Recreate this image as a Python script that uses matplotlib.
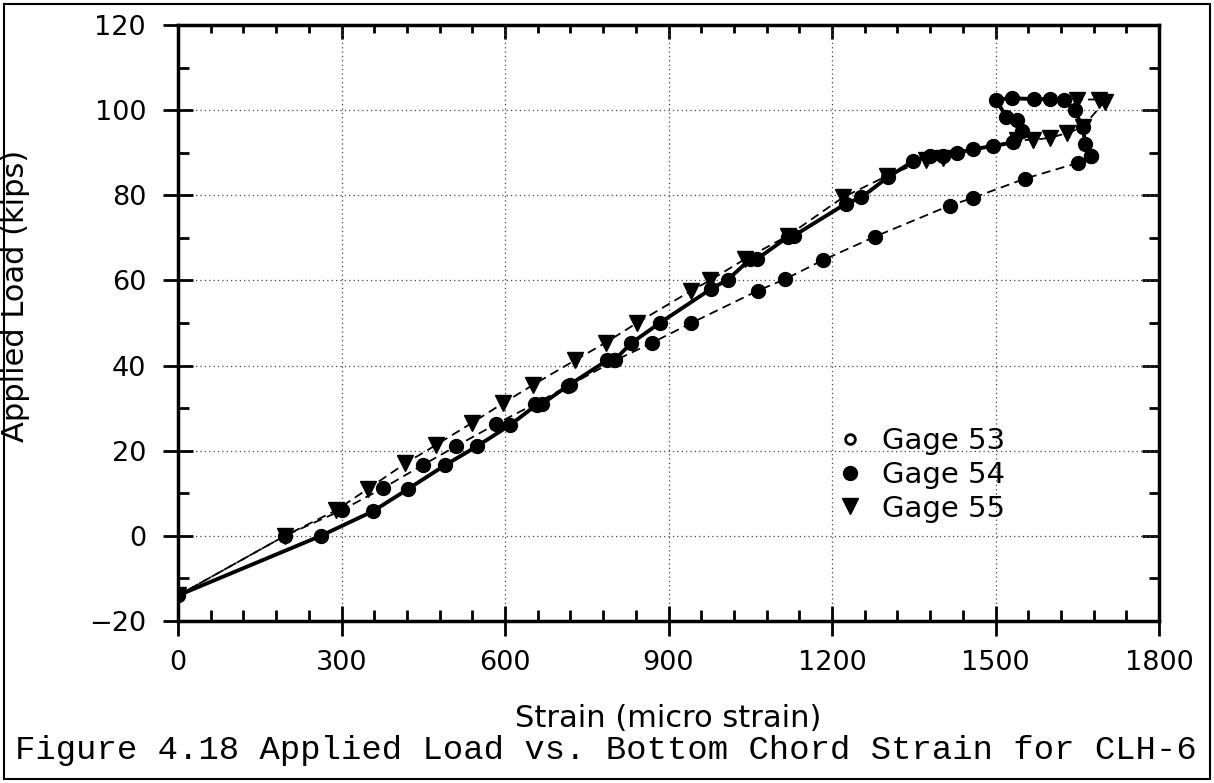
import matplotlib
matplotlib.use('Agg')
import matplotlib.pyplot as plt
from matplotlib.lines import Line2D
from matplotlib.patches import Rectangle
from matplotlib.ticker import MultipleLocator

# Gage 54 - loading branch (solid line)
strain_54_up = [0, 262, 358, 422, 490, 548, 609, 658, 668, 716, 787, 800, 832, 884,
                978, 1009, 1050, 1062, 1120, 1130, 1225, 1254, 1303, 1349, 1380, 1404,
                1430, 1459, 1496, 1533, 1548, 1540, 1520, 1500, 1530, 1570, 1600, 1625,
                1645, 1660, 1665, 1675]
load_54_up = [-14, 0, 5.8, 11, 16.6, 21, 26, 30.8, 31, 35.3, 41.2, 41.2, 45.3, 50,
              58, 60.2, 65, 65, 70.3, 70.5, 78, 79.5, 84.3, 88, 89.2, 89.2,
              90, 90.8, 91.6, 92.4, 95, 97.8, 98.5, 102.5, 102.8, 102.6, 102.6, 102.3,
              100, 96, 92, 89.2]

# Gage 54 - unloading branch (dashed line)
strain_54_down = [1675, 1651, 1554, 1459, 1416, 1279, 1184, 1114, 1064, 942, 869, 802,
                  720, 655, 584, 511, 450, 376, 300, 196, 0]
load_54_down = [89.2, 87.6, 83.9, 79.4, 77.6, 70.3, 64.8, 60.3, 57.6, 50, 45.3, 41.2,
                35.5, 31, 26.3, 21.1, 16.7, 11.2, 6, 0, -14]

# Gage 55 (dashed line)
strain_55 = [0, 196, 290, 348, 417, 474, 539, 597, 652, 729, 785, 842, 942, 976, 1040,
             1119, 1220, 1300, 1373, 1404, 1540, 1569, 1600, 1631, 1660, 1700, 1690, 1650]
load_55 = [-14, 0, 6, 11, 17, 21.4, 26.5, 31.2, 35.5, 41.3, 45.4, 50, 57.6, 60, 65,
           70.5, 79.5, 84.5, 88.3, 88.8, 93, 93, 93.5, 94.6, 96, 102, 102.5, 102.5]

xticks = [0, 300, 600, 900, 1200, 1500, 1800]
yticks = [-20, 0, 20, 40, 60, 80, 100, 120]

fig = plt.figure(figsize=(12.14, 7.83), dpi=100)
ax = fig.add_axes([178/1214, 1-621/783, 981/1214, 596/783])

ax.plot(strain_55, load_55, c='black', ls=(0, (5, 3)), lw=1.3,
        marker='v', ms=11, zorder=3)
ax.plot(strain_54_down, load_54_down, c='black', ls=(0, (5, 3)), lw=1.3,
        marker='o', ms=10, zorder=3)
ax.plot(strain_54_up, load_54_up, c='black', ls='-', lw=2.8,
        marker='o', ms=10, zorder=4)

ax.set_xlim(0, 1800)
ax.set_ylim(-20, 120)
ax.set_xticks(xticks)
ax.set_yticks(yticks)
ax.xaxis.set_minor_locator(MultipleLocator(60))
ax.yaxis.set_minor_locator(MultipleLocator(10))
ax.set_yticklabels(['\u221220' if t < 0 else str(t) for t in yticks])
ax.tick_params(which='major', direction='inout', length=22, width=2,
               labelsize=19.5)
ax.tick_params(axis='x', which='major', pad=10)
ax.tick_params(axis='y', which='major', pad=12)
ax.tick_params(which='minor', direction='in', length=8, width=2)
for s in ax.spines.values():
    s.set_linewidth(2.5)

ax.grid(True, which='major', color='#444444', ls=(0, (1, 2.5)), lw=0.9)

# inward ticks on top and right
top = ax.secondary_xaxis('top')
top.set_xticks(xticks)
top.xaxis.set_minor_locator(MultipleLocator(60))
top.tick_params(which='major', direction='in', length=10, width=2, labeltop=False)
top.tick_params(which='minor', direction='in', length=6, width=2)
right = ax.secondary_yaxis('right')
right.set_yticks(yticks)
right.yaxis.set_minor_locator(MultipleLocator(10))
right.tick_params(which='major', direction='in', length=12, width=2, labelright=False)
right.tick_params(which='minor', direction='in', length=7, width=2)

ax.set_xlabel('Strain (micro strain)', fontsize=22)
ax.set_ylabel('Applied Load (kips)', fontsize=22)
ax.xaxis.set_label_coords(0.5, -0.14)
ax.yaxis.set_label_coords(-0.151, 0.545)

handles = [
    Line2D([], [], ls='none', marker='o', ms=7, mfc='white', mec='black', mew=2),
    Line2D([], [], ls='none', marker='o', ms=10, c='black'),
    Line2D([], [], ls='none', marker='v', ms=11, c='black'),
]
ax.legend(handles, ['Gage 53', 'Gage 54', 'Gage 55'], loc='upper left',
          bbox_to_anchor=(0.655, 0.35), frameon=False, fontsize=21,
          handlelength=1.0, handletextpad=0.6, labelspacing=0.2, borderpad=0)

fig.text(0.499, 1-750/783, 'Figure 4.18 Applied Load vs. Bottom Chord Strain for CLH-6',
         family='Liberation Mono', fontsize=24.4, ha='center', va='center')

fig.patches.append(Rectangle((4/1214, 4/783), 1206/1214, 775/783, transform=fig.transFigure,
                             fill=False, ec='black', lw=1.5))

fig.savefig('out.png', dpi=100)
